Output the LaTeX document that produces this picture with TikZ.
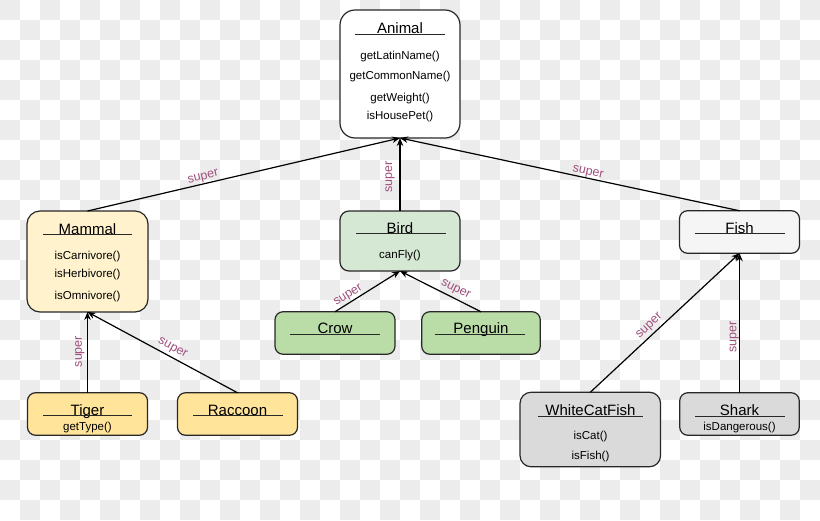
\documentclass[tikz,border=0pt]{standalone}
\usepackage{fontspec}
\setmainfont{Liberation Sans}
\usetikzlibrary{arrows.meta}
\definecolor{chk}{RGB}{236,236,236}
\definecolor{bordc}{RGB}{40,40,40}
\definecolor{lblc}{RGB}{160,80,125}
\definecolor{cWhite}{RGB}{255,255,255}
\definecolor{cMammal}{RGB}{255,242,204}
\definecolor{cBird}{RGB}{213,232,212}
\definecolor{cFish}{RGB}{245,245,245}
\definecolor{cCrow}{RGB}{186,220,167}
\definecolor{cTiger}{RGB}{255,228,153}
\definecolor{cGrey}{RGB}{218,218,218}
\begin{document}
\begin{tikzpicture}[x=1pt,y=-1pt,
  cls/.style={draw=bordc, line width=1.2pt, inner sep=0pt, outer sep=0pt},
  ttl/.style={anchor=base, inner sep=0pt, font=\fontsize{15}{17}\selectfont},
  mth/.style={anchor=base, inner sep=0pt, font=\fontsize{11.5}{13}\selectfont},
  uline/.style={draw=bordc, line width=1pt},
  edge/.style={draw=black, line width=1.2pt, -{Stealth[length=8pt,width=6.5pt]}},
  lbl/.style={text=lblc, inner sep=1pt, sloped, font=\fontsize{12.5}{14}\selectfont}]
\useasboundingbox (0,0) rectangle (820,520);
\begin{scope}
\clip (0,0) rectangle (820,520);
\fill[white] (0,0) rectangle (820,520);
\foreach \i in {0,2,...,40}{
  \foreach \j in {0,2,...,24}{
    \fill[chk] (\i*20,\j*20) rectangle ++(20,20);
    \fill[chk] (\i*20+20,\j*20+20) rectangle ++(20,20);
  }
}
\end{scope}

% Boxes
\node[cls, fill=cWhite, minimum width=120pt, minimum height=128pt, rounded corners=15pt] (animal) at (400,74) {};
\node[cls, fill=cMammal, minimum width=121pt, minimum height=101pt, rounded corners=13pt] (mammal) at (87.5,261.5) {};
\node[cls, fill=cBird, minimum width=120pt, minimum height=60pt, rounded corners=9pt] (bird) at (400,241) {};
\node[cls, fill=cFish, minimum width=120pt, minimum height=42.5pt, rounded corners=8pt] (fish) at (739.5,232) {};
\node[cls, fill=cCrow, minimum width=120pt, minimum height=42.5pt, rounded corners=8pt] (crow) at (335,333) {};
\node[cls, fill=cCrow, minimum width=118.5pt, minimum height=42.5pt, rounded corners=8pt] (penguin) at (481,333) {};
\node[cls, fill=cTiger, minimum width=120pt, minimum height=42.5pt, rounded corners=8pt] (tiger) at (87.5,414) {};
\node[cls, fill=cTiger, minimum width=120pt, minimum height=42.5pt, rounded corners=8pt] (raccoon) at (237.5,414) {};
\node[cls, fill=cGrey, minimum width=140.5pt, minimum height=74.5pt, rounded corners=11pt] (wcf) at (590.3,429.5) {};
\node[cls, fill=cGrey, minimum width=119.5pt, minimum height=42.5pt, rounded corners=8pt] (shark) at (739.5,414) {};

% Animal
\node[ttl] (tAnimal) at (400,33.5) {Animal};
\draw[uline] (355,34.5) -- (445,34.5);
\node[mth] (m1) at (400,59.5) {getLatinName()};
\node[mth] (m2) at (400,79) {getCommonName()};
\node[mth] (m3) at (400,101) {getWeight()};
\node[mth] (m4) at (400,119.5) {isHousePet()};
% Mammal
\node[ttl] (tMammal) at (87.5,234) {Mammal};
\draw[uline] (43,234.5) -- (132,234.5);
\node[mth] (m5) at (87.5,259) {isCarnivore()};
\node[mth] (m6) at (87.5,277.5) {isHerbivore()};
\node[mth] (m7) at (87.5,299) {isOmnivore()};
% Bird
\node[ttl] (tBird) at (400,233) {Bird};
\draw[uline] (356,233.5) -- (446,233.5);
\node[mth] (m8) at (400,258) {canFly()};
% Fish
\node[ttl] (tFish) at (739.5,233) {Fish};
\draw[uline] (695,233.5) -- (785,233.5);
% Crow / Penguin
\node[ttl] (tCrow) at (335,333.5) {Crow};
\draw[uline] (290,334) -- (380,334);
\node[ttl] (tPenguin) at (481,333.5) {Penguin};
\draw[uline] (435,334) -- (525,334);
% Tiger / Raccoon
\node[ttl] (tTiger) at (87.5,415) {Tiger};
\draw[uline] (43,415.5) -- (132,415.5);
\node[mth] (m9) at (87.5,430) {getType()};
\node[ttl] (tRaccoon) at (237.5,415) {Raccoon};
\draw[uline] (193,415.5) -- (283,415.5);
% WhiteCatFish / Shark
\node[ttl] (tWcf) at (590.5,415.5) {WhiteCatFish};
\draw[uline] (538,416) -- (643,416);
\node[mth] (m10) at (590.5,439.5) {isCat()};
\node[mth] (m11) at (590.5,459) {isFish()};
\node[ttl] (tShark) at (739.5,415.5) {Shark};
\draw[uline] (695,416) -- (785,416);
\node[mth] (m12) at (739.5,430) {isDangerous()};

% Connectors
\draw[edge] (mammal.north) -- node[lbl, pos=0.375, above] {super} (animal.south);
\draw[edge] (bird.north) -- node[lbl, pos=0.47, above=3.7pt] {super} (animal.south);
\draw[edge] (fish.north) -- node[lbl, pos=0.45, above=-0.8pt] {super} (animal.south);
\draw[edge] (crow.north) -- node[lbl, pos=0.26, above] {super} (bird.south);
\draw[edge] (penguin.north) -- node[lbl, pos=0.36, above=2pt] {super} (bird.south);
\draw[edge] (tiger.north) -- node[lbl, pos=0.51, above=1.4pt] {super} (mammal.south);
\draw[edge] (raccoon.north) -- node[lbl, pos=0.46, above=2pt] {super} (mammal.south);
\draw[edge] (wcf.north) -- node[lbl, pos=0.434, above=1.7pt] {super} (fish.south);
\draw[edge] (shark.north) -- node[lbl, pos=0.4, above=-1pt] {super} (fish.south);
\end{tikzpicture}
\end{document}
